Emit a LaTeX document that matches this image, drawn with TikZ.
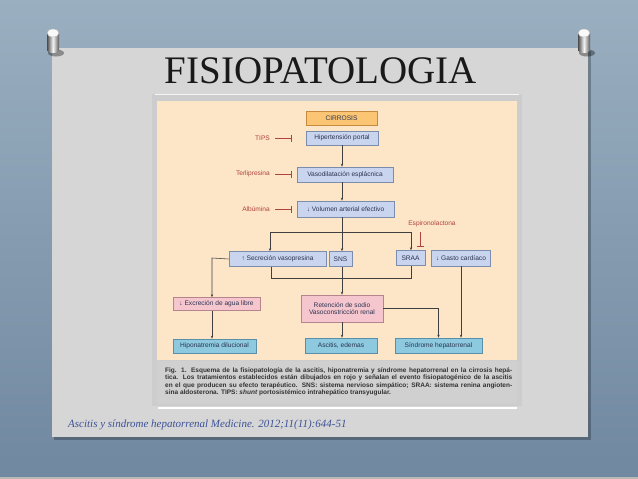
\documentclass[tikz,border=0pt]{standalone}
\usepackage{fontspec}
\setmainfont{Liberation Serif}
\newfontfamily\sansf{Liberation Sans}
\usetikzlibrary{arrows.meta}
\definecolor{bgtop}{HTML}{9AAFC0}
\definecolor{bgbot}{HTML}{7088A0}
\definecolor{panelc}{HTML}{D6D6D6}
\definecolor{framec}{HTML}{CDCDCD}
\definecolor{peach}{HTML}{FDE5C8}
\definecolor{cirfill}{HTML}{FBC574}
\definecolor{cirdraw}{HTML}{C58A3E}
\definecolor{bluefill}{HTML}{C9D4EE}
\definecolor{bluedraw}{HTML}{7C8CAC}
\definecolor{pinkfill}{HTML}{F6C6CE}
\definecolor{pinkdraw}{HTML}{B5848C}
\definecolor{tealfill}{HTML}{8DCAE0}
\definecolor{tealdraw}{HTML}{5A8FA8}
\definecolor{boxtext}{HTML}{2C3450}
\definecolor{redtxt}{HTML}{B0443A}
\definecolor{linec}{HTML}{404040}
\definecolor{captc}{HTML}{333333}
\definecolor{citec}{HTML}{3C5196}
\tikzset{
  box/.style={draw, line width=0.6pt, inner sep=0pt, align=center,
    font=\sansf\fontsize{6.6}{7.8}\selectfont, text=boxtext},
  orangebox/.style={box, fill=cirfill, draw=cirdraw},
  bluebox/.style={box, fill=bluefill, draw=bluedraw},
  pinkbox/.style={box, fill=pinkfill, draw=pinkdraw},
  tealbox/.style={box, fill=tealfill, draw=tealdraw},
  redlabel/.style={inner sep=0pt, font=\sansf\fontsize{6.6}{7.8}\selectfont, text=redtxt},
  conn/.style={draw=linec, line width=0.55pt},
  arr/.style={conn, -{Stealth[length=3pt,width=2.4pt]}},
  inhib/.style={draw=redtxt, line width=0.6pt, -{Bar[width=7pt,line width=0.6pt]}},
  captline/.style={inner sep=0pt, anchor=base west, text=captc,
    font=\sansf\bfseries\fontsize{6.5}{7.5}\selectfont},
  pinbody/.style={left color=gray!60!black, right color=gray!70!black, middle color=white!92!gray},
}
\begin{document}
\begin{tikzpicture}[x=1pt,y=-1pt]
\useasboundingbox (0,0) rectangle (638,479);
% background
\shade[top color=bgtop, bottom color=bgbot] (0,0) rectangle (638,479);
\fill[gray!55] (0,476.5) rectangle (638,479);
% panel
\fill[black, opacity=0.25] (54,51) rectangle (591,440);
\fill[panelc] (52,48) rectangle (588,437);
% figure frame
\fill[framec] (152,94) rectangle (522,406);
\draw[white!92!gray, line width=0.8pt] (155,94) -- (519,94);
\fill[peach] (157,101) rectangle (517,360);
\fill[panelc!97!black] (157,361) rectangle (517,404);
\draw[white, line width=1.2pt] (158,408) -- (517,408);
% pins
\foreach \px in {53,584}{
  \fill[black, opacity=0.35] (\px+3,53) ellipse [x radius=8pt, y radius=3.5pt];
  \shade[pinbody] (\px-6,33) rectangle (\px+6,50);
  \shade[pinbody] (\px,50) ellipse [x radius=6pt, y radius=3pt];
  \fill[white!95!gray, draw=gray!60] (\px,33) ellipse [x radius=6pt, y radius=4pt];
}
% title
\node[anchor=base, inner sep=0pt, font=\fontsize{39}{40}\selectfont, text=black!90] (title) at (321,83) {FISIOPATOLOGIA};
% boxes
\node[orangebox, minimum width=71pt, minimum height=14pt] (cir) at (341.5,118) {CIRROSIS};
\node[bluebox, minimum width=72pt, minimum height=14pt] (hip) at (342,138) {Hipertensión portal};
\node[bluebox, minimum width=96pt, minimum height=15pt] (vaso) at (345,174.5) {Vasodilatación esplácnica};
\node[bluebox, minimum width=97pt, minimum height=16pt] (vol) at (345.5,209) {↓ Volumen arterial efectivo};
\node[bluebox, minimum width=97pt, minimum height=15pt] (sec) at (277.5,259) {↑ Secreción vasopresina};
\node[bluebox, minimum width=23pt, minimum height=15pt] (sns) at (340.5,259) {SNS};
\node[bluebox, minimum width=29pt, minimum height=15pt] (sraa) at (410.5,258) {SRAA};
\node[bluebox, minimum width=59pt, minimum height=16pt] (gasto) at (461,258) {↓ Gasto cardíaco};
\node[pinkbox, minimum width=87pt, minimum height=13pt] (exc) at (216.5,304) {↓ Excreción de agua libre};
\node[pinkbox, minimum width=82pt, minimum height=27pt] (ret) at (342,308.5) {Retención de sodio\\Vasoconstricción renal};
\node[tealbox, minimum width=83pt, minimum height=14pt] (hipo) at (214.5,346) {Hiponatremia dilucional};
\node[tealbox, minimum width=72pt, minimum height=15pt] (asc) at (341,345.5) {Ascitis, edemas};
\node[tealbox, minimum width=87pt, minimum height=15pt] (sind) at (438.5,345.5) {Síndrome hepatorrenal};
% red labels
\node[redlabel, anchor=east] (tips) at (270,138) {TIPS};
\node[redlabel, anchor=east] (terl) at (270,174) {Terlipresina};
\node[redlabel, anchor=east] (alb) at (270,209) {Albúmina};
\node[redlabel] (esp) at (432,224) {Espironolactona};
% inhibitor ends
\coordinate (tb) at (292,138);
\coordinate (teb) at (292,174);
\coordinate (ab) at (292,209);
\coordinate (et) at (420,232);
\coordinate (eb) at (420,247);
\draw[inhib] ([xshift=5pt]tips.east) -- (tb);
\draw[inhib] ([xshift=5pt]terl.east) -- (teb);
\draw[inhib] ([xshift=5pt]alb.east) -- (ab);
\draw[inhib] (et) -- (eb);
% junction coordinates
\coordinate (j) at (342,232);
\coordinate (jl) at (270,232);
\coordinate (jr) at (411,232);
\coordinate (kl) at (271,278);
\coordinate (kr) at (411,278);
\coordinate (ex) at (212,258);
% connectors
\draw[arr] (hip.south -| j) -- (vaso.north -| j);
\draw[arr] (vaso.south -| j) -- (vol.north -| j);
\draw[conn] (vol.south -| j) -- (j);
\draw[conn] (jl) -- (jr);
\draw[arr] (jl) -- (jl |- sec.north);
\draw[arr] (j) -- (j |- sns.north);
\draw[arr] (jr) -- (jr |- sraa.north);
\draw[conn] (kl |- sec.south) -- (kl) -- (kr) -- (kr |- sraa.south);
\draw[arr] (sns.south -| j) -- (ret.north -| j);
\draw[arr] (sec.west) -- (ex) -- (ex |- exc.north);
\draw[arr] (ex |- exc.south) -- (ex |- hipo.north);
\draw[arr] (ret.south -| j) -- (asc.north -| j);
\draw[arr] (ret.east) -- (ret.east -| sind.north) -- (sind.north);
\draw[arr] (gasto.south) -- (gasto.south |- sind.north);
% caption
\node[captline] (cap1) at (165,372) {\makebox[347pt][s]{Fig. 1. Esquema de la fisiopatología de la ascitis, hiponatremia y síndrome hepatorrenal en la cirrosis hepá-}};
\node[captline] (cap2) at (165,379.5) {\makebox[347pt][s]{tica. Los tratamientos establecidos están dibujados en rojo y señalan el evento fisiopatogénico de la ascitis}};
\node[captline] (cap3) at (165,387) {\makebox[347pt][s]{en el que producen su efecto terapéutico. SNS: sistema nervioso simpático; SRAA: sistema renina angioten-}};
\node[captline] (cap4) at (165,394.5) {sina aldosterona. TIPS: \textit{shunt} portosistémico intrahepático transyugular.};
% citation
\node[anchor=base west, inner sep=0pt, text=citec, font=\itshape\fontsize{11}{12}\selectfont] (cit) at (68,427) {Ascitis y síndrome hepatorrenal Medicine. 2012;11(11):644-51};
\end{tikzpicture}
\end{document}
